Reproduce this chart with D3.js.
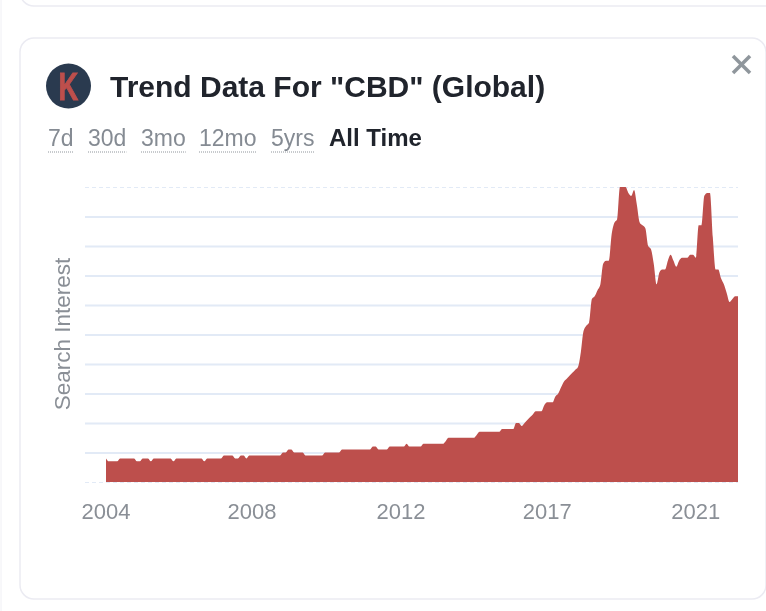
<!DOCTYPE html>
<html>
<head>
    <title>Trend Data For "CBD"</title>
    <style>
        html, body { margin: 0; padding: 0; background: white; overflow: hidden; }
        body { width: 766px; height: 611px; }
        svg { display: block; filter: blur(0.45px); }
        text { font-family: "Liberation Sans", Arial, sans-serif; }
    </style>
    <script src="https://cdnjs.cloudflare.com/ajax/libs/d3/7.8.5/d3.min.js"></script>
</head>
<body>
<div id="svgTarget"></div>
<script>
  var titleText = 'Trend Data For "CBD" (Global)';
  var ranges = ['7d', '30d', '3mo', '12mo', '5yrs', 'All Time'];
  var rangeX = [48, 88, 141, 199, 271, 329];
  var yTicks = [0, 10, 20, 30, 40, 50, 60, 70, 80, 90, 100];
  var xTickIndex = [0, 52, 105, 157, 210];

  // monthly search interest
  var interest = [
    8,7,7,7,7,8,8,8,8,8,
    8,7,7,8,8,8,7,8,8,8,
    8,8,8,8,7,8,8,8,8,8,
    8,8,8,8,8,7,8,8,8,8,
    8,8,9,9,9,9,8,8,9,9,
    8,9,9,9,9,9,9,9,9,9,
    9,9,9,10,10,11,11,10,10,10,
    10,9,9,9,9,9,9,9,10,10,
    10,10,10,10,11,11,11,11,11,11,
    11,11,11,11,11,12,12,11,11,11,
    11,12,12,12,12,12,12,13,12,12,
    12,12,12,13,13,13,13,13,13,13,
    13,14,15,15,15,15,15,15,15,15,
    15,15,16,17,17,17,17,17,17,17,
    17,18,18,18,18,18,20,20,19,20,
    21,22,23,24,24,24,26,27,27,27,
    29,30,32,34,35,36,37,38,39,44,
    51,53,54,62,63,65,67,74,75,75,
    84,88,89,100,100,100,98,97,99,94,
    88,87,86,80,79,74,67,71,72,72,
    75,77,75,73,75,76,76,76,77,77,
    76,87,87,97,98,98,83,72,72,69,
    67,64,61,62,63,63
  ];

  var months = d3.timeMonth.range(new Date(2004, 0, 1), new Date(2004 + 18, 10, 1));

  var svg = d3.select('#svgTarget')
      .append('svg')
      .attr('width', 766)
      .attr('height', 611);

  // cards
  svg.append('rect')
      .attr('x', 20).attr('y', -60)
      .attr('width', 800).attr('height', 66)
      .attr('rx', 14)
      .style('fill', 'white').style('stroke', '#ebebf2').style('stroke-width', 1.5);
  svg.append('rect')
      .attr('x', 20).attr('y', 38)
      .attr('width', 746).attr('height', 561)
      .attr('rx', 14)
      .style('fill', 'white').style('stroke', '#ebebf2').style('stroke-width', 1.5);
  svg.append('line')
      .attr('x1', 1).attr('x2', 1).attr('y1', 0).attr('y2', 611)
      .style('stroke', '#f0f0f5');

  // logo
  svg.append('circle')
      .attr('cx', 68.5).attr('cy', 86).attr('r', 22.5)
      .style('fill', '#2a3a4f');
  svg.append('text')
      .attr('transform', 'translate(68.5,100) scale(0.72,1)')
      .attr('text-anchor', 'middle')
      .style('font-size', '38px').style('font-weight', 'bold')
      .style('fill', '#bd4f4c')
      .style('stroke', '#bd4f4c')
      .style('stroke-width', 1)
      .text('K');

  svg.append('text')
      .attr('x', 110).attr('y', 97)
      .style('font-size', '30px').style('font-weight', 'bold')
      .style('fill', '#20242c')
      .text(titleText);

  // close button
  svg.selectAll('.close')
      .data([[733, 56, 750, 73], [750, 56, 733, 73]])
      .enter().append('line')
      .attr('x1', function(d) { return d[0]; })
      .attr('y1', function(d) { return d[1]; })
      .attr('x2', function(d) { return d[2]; })
      .attr('y2', function(d) { return d[3]; })
      .style('stroke', '#8f969c').style('stroke-width', 3.5);

  // range tabs
  svg.selectAll('.range')
      .data(ranges)
      .enter().append('text')
      .attr('class', 'range')
      .attr('x', function(d, i) { return rangeX[i]; })
      .attr('y', 146)
      .style('font-size', function(d) { return d === 'All Time' ? '24px' : '23px'; })
      .style('font-weight', function(d) { return d === 'All Time' ? 'bold' : 'normal'; })
      .style('fill', function(d) { return d === 'All Time' ? '#20242c' : '#858b93'; })
      .text(function(d) { return d; })
      .each(function(d, i) {
        if (d === 'All Time') return;
        var w = this.getComputedTextLength();
        svg.append('line')
            .attr('x1', rangeX[i]).attr('x2', rangeX[i] + w)
            .attr('y1', 152).attr('y2', 152)
            .style('stroke', '#8f959c')
            .style('stroke-dasharray', '1 1');
      });

  var x = d3.scaleTime()
      .domain([months[0], months[months.length - 1]])
      .range([106, 738]);
  var y = d3.scaleLinear()
      .domain([0, 100])
      .range([482, 187]);

  // grid
  var grid = svg.append('g')
      .attr('transform', 'translate(85,0)')
      .call(d3.axisLeft(y).tickValues(yTicks).tickSize(-653).tickFormat(''));
  grid.select('.domain').remove();
  grid.selectAll('.tick line')
      .style('stroke', '#e2eaf6')
      .style('stroke-width', 2);
  grid.selectAll('.tick')
      .filter(function(d) { return d === 0 || d === 100; })
      .select('line')
      .style('stroke-width', 1)
      .style('stroke-dasharray', '4 3');

  var area = d3.area()
      .x(function(d, i) { return x(months[i]); })
      .y0(y(0))
      .y1(function(d) { return y(d); })
      .curve(d3.curveMonotoneX);

  svg.append('path')
      .datum(interest)
      .attr('d', area)
      .style('fill', '#bd4f4c');

  // x axis
  var xAxis = svg.append('g')
      .attr('transform', 'translate(0,482)')
      .call(d3.axisBottom(x)
        .tickValues(xTickIndex.map(function(i) { return months[i]; }))
        .tickSize(0)
        .tickPadding(21)
        .tickFormat(d3.timeFormat('%Y')));
  xAxis.select('.domain').remove();
  xAxis.selectAll('text')
      .attr('dx', -0.5)
      .style('font-family', '"Liberation Sans", Arial, sans-serif')
      .style('font-size', '22px')
      .style('fill', '#8a8f96');

  svg.append('text')
      .attr('transform', 'translate(70,334) rotate(-90)')
      .attr('text-anchor', 'middle')
      .style('font-size', '22.5px')
      .style('fill', '#8a8f96')
      .text('Search Interest');
</script>
</body>
</html>
